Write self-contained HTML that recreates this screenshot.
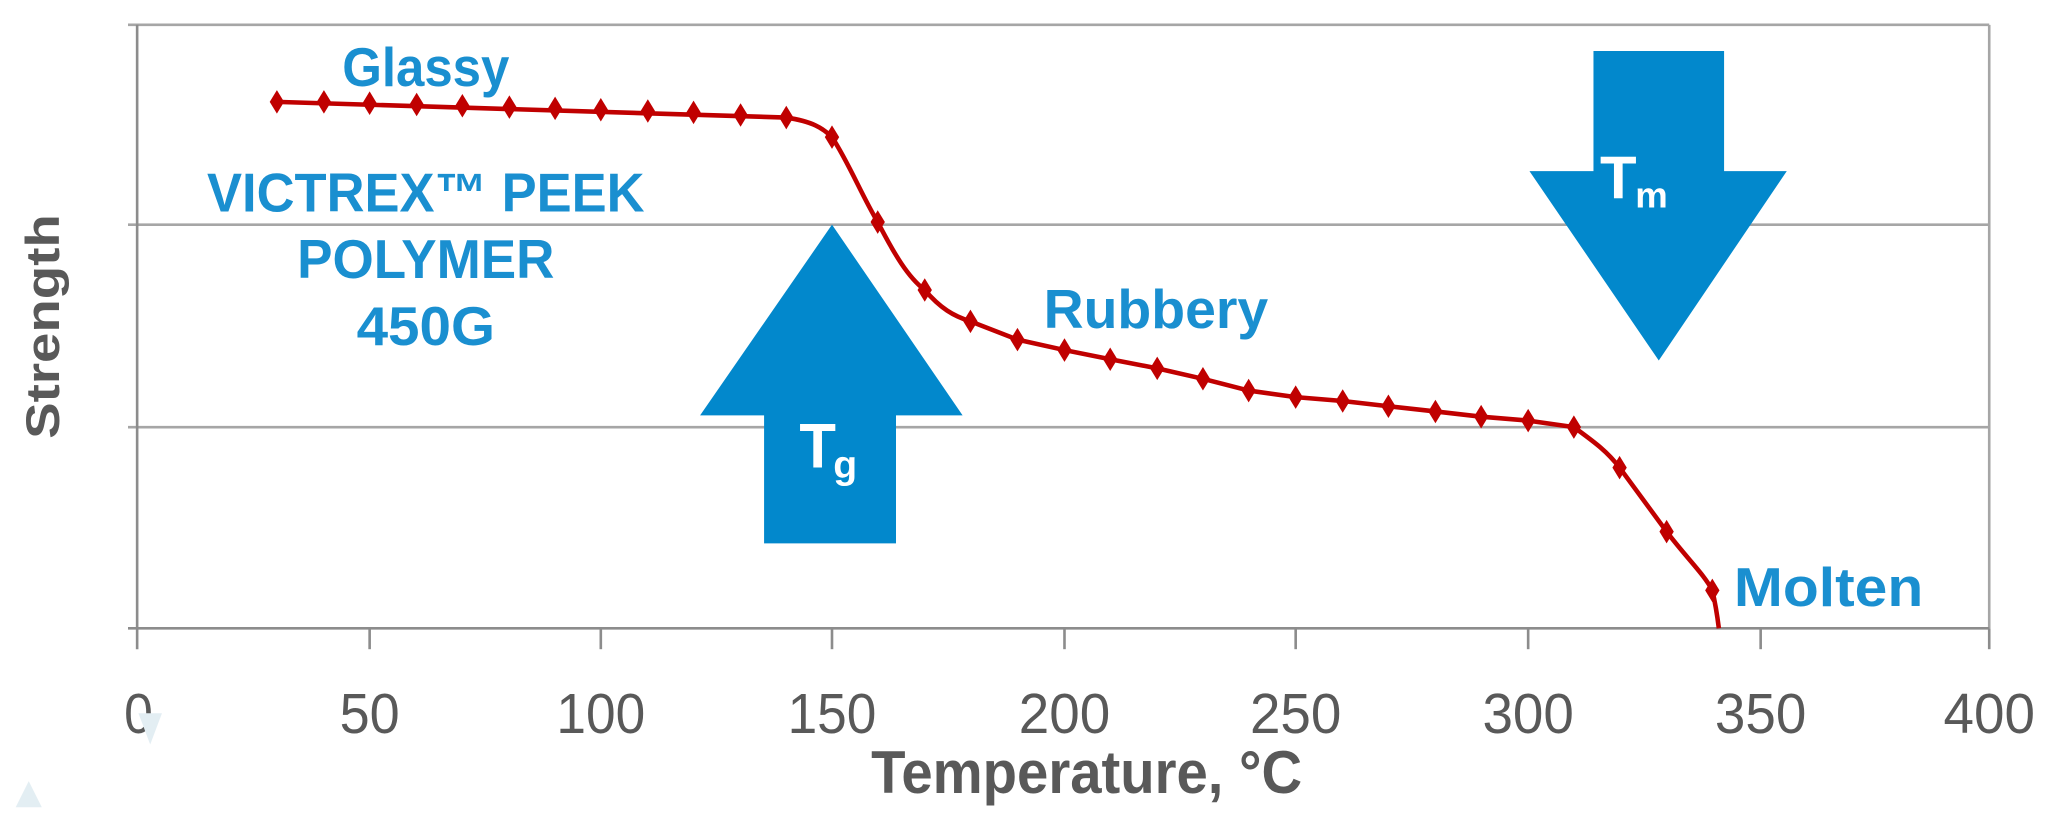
<!DOCTYPE html>
<html><head><meta charset="utf-8"><style>
html,body{margin:0;padding:0;background:#fff;}
svg{display:block;}
</style></head><body>
<svg width="2048" height="819" viewBox="0 0 1568 627" preserveAspectRatio="none" xmlns="http://www.w3.org/2000/svg">
<rect width="1568" height="627" fill="#fff"/>
<g stroke="#a6a6a6" stroke-width="2" fill="none">
<line x1="98" y1="19" x2="1523" y2="19"/>
<line x1="98" y1="172" x2="1523" y2="172"/>
<line x1="98" y1="327" x2="1523" y2="327"/>
<line x1="1523" y1="19" x2="1523" y2="481"/>
</g>
<g stroke="#8c8c8c" stroke-width="2" fill="none">
<line x1="98" y1="481" x2="1523" y2="481"/>
<line x1="105" y1="19" x2="105" y2="497"/>
<line x1="283" y1="481" x2="283" y2="497"/>
<line x1="460" y1="481" x2="460" y2="497"/>
<line x1="637" y1="481" x2="637" y2="497"/>
<line x1="815" y1="481" x2="815" y2="497"/>
<line x1="992" y1="481" x2="992" y2="497"/>
<line x1="1170" y1="481" x2="1170" y2="497"/>
<line x1="1348" y1="481" x2="1348" y2="497"/>
<line x1="1523" y1="481" x2="1523" y2="497"/>
</g>
<g font-family="Liberation Sans, sans-serif" font-size="43" fill="#595959" text-anchor="middle" lengthAdjust="spacingAndGlyphs">
<text x="106" y="561" textLength="22" lengthAdjust="spacingAndGlyphs">0</text>
<text x="283" y="561" textLength="46" lengthAdjust="spacingAndGlyphs">50</text>
<text x="460" y="561" textLength="68" lengthAdjust="spacingAndGlyphs">100</text>
<text x="637" y="561" textLength="68" lengthAdjust="spacingAndGlyphs">150</text>
<text x="815" y="561" textLength="70" lengthAdjust="spacingAndGlyphs">200</text>
<text x="992" y="561" textLength="70" lengthAdjust="spacingAndGlyphs">250</text>
<text x="1170" y="561" textLength="70" lengthAdjust="spacingAndGlyphs">300</text>
<text x="1348" y="561" textLength="70" lengthAdjust="spacingAndGlyphs">350</text>
<text x="1523" y="561" textLength="70" lengthAdjust="spacingAndGlyphs">400</text>
</g>
<text x="832" y="607" font-family="Liberation Sans, sans-serif" font-weight="bold" font-size="46" fill="#595959" text-anchor="middle" textLength="330" lengthAdjust="spacingAndGlyphs">Temperature, °C</text>
<text transform="translate(45,250) rotate(-90)" font-family="Liberation Sans, sans-serif" font-weight="bold" font-size="36" fill="#595959" text-anchor="middle" textLength="172" lengthAdjust="spacingAndGlyphs">Strength</text>
<g fill="#0288cc">
<polygon points="637,172 737,318 686,318 686,416 585,416 585,318 536,318"/>
<polygon points="1220,39 1320,39 1320,131 1368,131 1270,276 1171,131 1220,131"/>
</g>
<g font-family="Liberation Sans, sans-serif" font-weight="bold" fill="#fff">
<text x="612" y="358" font-size="48" textLength="28" lengthAdjust="spacingAndGlyphs">T</text><text x="638" y="366" font-size="30">g</text>
<text x="1225" y="152" font-size="46" textLength="28" lengthAdjust="spacingAndGlyphs">T</text><text x="1252" y="159" font-size="28">m</text>
</g>
<g font-family="Liberation Sans, sans-serif" font-weight="bold" fill="#1a8fd0" text-anchor="middle" font-size="42">
<text x="326" y="66" textLength="128" lengthAdjust="spacingAndGlyphs">Glassy</text>
<text x="326" y="162" textLength="335" lengthAdjust="spacingAndGlyphs">VICTREX™ PEEK</text>
<text x="326" y="213" textLength="197" lengthAdjust="spacingAndGlyphs">POLYMER</text>
<text x="326" y="264" textLength="106" lengthAdjust="spacingAndGlyphs">450G</text>
<text x="885" y="251" textLength="172" lengthAdjust="spacingAndGlyphs">Rubbery</text>
<text x="1400" y="464" textLength="145" lengthAdjust="spacingAndGlyphs">Molten</text>
</g>
<path fill="none" stroke="#c00000" stroke-width="3.5" stroke-linejoin="round" d="M212,78 L602,90 C622,93 630,98 637,105 C650,125 660,150 672,170 C685,195 695,212 708,222 C720,236 730,242 743,246 L779,260 L815,268 L850,275 L886,282 L921,290 L956,299 L992,304 L1028,307 L1063,311 L1099,315 L1134,319 L1170,322 L1205,327 C1220,338 1230,345 1240,358 L1276,407 C1292,428 1305,440 1311,452 C1314,465 1315,473 1316,481"/>
<g fill="#c00000">
<path d="M0,-9 L5.5,0 L0,9 L-5.5,0Z" transform="translate(212,78)"/>
<path d="M0,-9 L5.5,0 L0,9 L-5.5,0Z" transform="translate(248,78)"/>
<path d="M0,-9 L5.5,0 L0,9 L-5.5,0Z" transform="translate(283,79)"/>
<path d="M0,-9 L5.5,0 L0,9 L-5.5,0Z" transform="translate(319,80)"/>
<path d="M0,-9 L5.5,0 L0,9 L-5.5,0Z" transform="translate(354,81)"/>
<path d="M0,-9 L5.5,0 L0,9 L-5.5,0Z" transform="translate(390,82)"/>
<path d="M0,-9 L5.5,0 L0,9 L-5.5,0Z" transform="translate(425,83)"/>
<path d="M0,-9 L5.5,0 L0,9 L-5.5,0Z" transform="translate(460,84)"/>
<path d="M0,-9 L5.5,0 L0,9 L-5.5,0Z" transform="translate(496,85)"/>
<path d="M0,-9 L5.5,0 L0,9 L-5.5,0Z" transform="translate(531,86)"/>
<path d="M0,-9 L5.5,0 L0,9 L-5.5,0Z" transform="translate(567,88)"/>
<path d="M0,-9 L5.5,0 L0,9 L-5.5,0Z" transform="translate(602,90)"/>
<path d="M0,-9 L5.5,0 L0,9 L-5.5,0Z" transform="translate(637,105)"/>
<path d="M0,-9 L5.5,0 L0,9 L-5.5,0Z" transform="translate(672,170)"/>
<path d="M0,-9 L5.5,0 L0,9 L-5.5,0Z" transform="translate(708,222)"/>
<path d="M0,-9 L5.5,0 L0,9 L-5.5,0Z" transform="translate(743,246)"/>
<path d="M0,-9 L5.5,0 L0,9 L-5.5,0Z" transform="translate(779,260)"/>
<path d="M0,-9 L5.5,0 L0,9 L-5.5,0Z" transform="translate(815,268)"/>
<path d="M0,-9 L5.5,0 L0,9 L-5.5,0Z" transform="translate(850,275)"/>
<path d="M0,-9 L5.5,0 L0,9 L-5.5,0Z" transform="translate(886,282)"/>
<path d="M0,-9 L5.5,0 L0,9 L-5.5,0Z" transform="translate(921,290)"/>
<path d="M0,-9 L5.5,0 L0,9 L-5.5,0Z" transform="translate(956,299)"/>
<path d="M0,-9 L5.5,0 L0,9 L-5.5,0Z" transform="translate(992,304)"/>
<path d="M0,-9 L5.5,0 L0,9 L-5.5,0Z" transform="translate(1028,307)"/>
<path d="M0,-9 L5.5,0 L0,9 L-5.5,0Z" transform="translate(1063,311)"/>
<path d="M0,-9 L5.5,0 L0,9 L-5.5,0Z" transform="translate(1099,315)"/>
<path d="M0,-9 L5.5,0 L0,9 L-5.5,0Z" transform="translate(1134,319)"/>
<path d="M0,-9 L5.5,0 L0,9 L-5.5,0Z" transform="translate(1170,322)"/>
<path d="M0,-9 L5.5,0 L0,9 L-5.5,0Z" transform="translate(1205,327)"/>
<path d="M0,-9 L5.5,0 L0,9 L-5.5,0Z" transform="translate(1240,358)"/>
<path d="M0,-9 L5.5,0 L0,9 L-5.5,0Z" transform="translate(1276,407)"/>
<path d="M0,-9 L5.5,0 L0,9 L-5.5,0Z" transform="translate(1311,452)"/>
</g>
<g fill="#e3eef3">
<polygon points="106,546 124,546 115,570"/>
<polygon points="12,618 22,598 32,618"/>
</g>
</svg>
</body></html>
